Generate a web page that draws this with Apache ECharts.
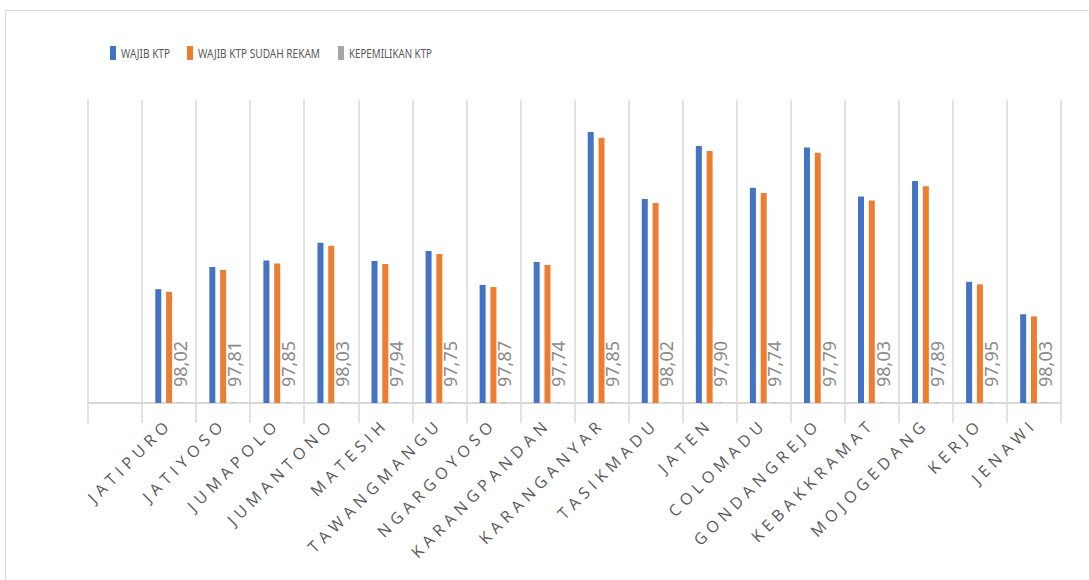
<!DOCTYPE html>
<html>
<head>
<meta charset="utf-8">
<script src="https://cdn.jsdelivr.net/npm/echarts@6/dist/echarts.min.js"></script>
<style>
html,body{margin:0;padding:0;background:#fff;}
#chart{width:1089px;height:580px;}
svg text[style*="Open Sans"]{letter-spacing:5px;}
</style>
</head>
<body>
<div id="chart"></div>
<script>
const categories = ['', 'JATIPURO', 'JATIYOSO', 'JUMAPOLO', 'JUMANTONO', 'MATESIH', 'TAWANGMANGU', 'NGARGOYOSO', 'KARANGPANDAN', 'KARANGANYAR', 'TASIKMADU', 'JATEN', 'COLOMADU', 'GONDANGREJO', 'KEBAKKRAMAT', 'MOJOGEDANG', 'KERJO', 'JENAWI'];
const wajibKtp = [null, 26300, 31400, 32900, 37000, 32800, 35100, 27300, 32600, 62600, 47100, 59400, 49700, 59000, 47700, 51300, 28000, 20500];
const wajibKtpRekam = [null, 25700, 30700, 32200, 36300, 32100, 34400, 26800, 31900, 61300, 46200, 58200, 48500, 57800, 46800, 50100, 27400, 20000];
const kepemilikanKtp = [null, 98.02, 97.81, 97.85, 98.03, 97.94, 97.75, 97.87, 97.74, 97.85, 98.02, 97.90, 97.74, 97.79, 98.03, 97.89, 97.95, 98.03];
const seriesNames = ['WAJIB KTP', 'WAJIB KTP SUDAH REKAM', 'KEPEMILIKAN KTP'];
const legendLefts = [105, 182, 333];
const legendTextWidths = [49, 122, 83];

const chart = echarts.init(document.getElementById('chart'), null, {renderer: 'svg'});
const barCommon = {type: 'bar', barWidth: 6, barGap: '80%'};

function squeezeLegend() {
  document.querySelectorAll('#chart svg text').forEach(t => {
    const i = seriesNames.indexOf(t.textContent);
    if (i >= 0) {
      t.setAttribute('textLength', legendTextWidths[i]);
      t.setAttribute('lengthAdjust', 'spacingAndGlyphs');
    }
  });
}
chart.on('rendered', squeezeLegend);

chart.setOption({
  animation: false,
  color: ['#4472c4', '#ed7d31', '#a5a5a5'],
  graphic: [{
    type: 'rect', silent: true,
    shape: {x: 5.5, y: 10.5, width: 1200, height: 700},
    style: {fill: 'none', stroke: '#d9d9d9', lineWidth: 1}
  }],
  legend: seriesNames.map((n, i) => ({
    top: 41, left: legendLefts[i],
    itemWidth: 6, itemHeight: 14,
    icon: 'rect',
    textStyle: {color: '#595959', fontSize: 12, fontFamily: "'Noto Sans', sans-serif"},
    data: [n]
  })),
  grid: {left: 88, right: 28, top: 100, bottom: 177, containLabel: false},
  xAxis: {
    type: 'category', data: categories, boundaryGap: true,
    axisLine: {lineStyle: {color: '#d9d9d9', width: 2}},
    axisTick: {show: true, length: 20, interval: 0, lineStyle: {color: '#d9d9d9', width: 1.5}},
    splitLine: {show: true, interval: 0, lineStyle: {color: '#d9d9d9', width: 1.5}},
    axisLabel: {interval: 0, rotate: 45, margin: 18, color: '#595959', fontSize: 16, fontFamily: "'Open Sans'"}
  },
  yAxis: {
    type: 'value', min: 0, max: 70000,
    axisLabel: {show: false}, axisLine: {show: false}, axisTick: {show: false}, splitLine: {show: false}
  },
  series: [
    Object.assign({name: seriesNames[0], data: wajibKtp}, barCommon),
    Object.assign({name: seriesNames[1], data: wajibKtpRekam}, barCommon),
    Object.assign({name: seriesNames[2], data: kepemilikanKtp,
      label: {show: true, position: 'insideBottom', distance: 16, rotate: 90, align: 'left', verticalAlign: 'middle',
        color: '#8a8a8a', fontSize: 18, fontFamily: "'Noto Sans'",
        formatter: p => p.value == null ? '' : p.value.toFixed(2).replace('.', ',')}
    }, barCommon)
  ]
});
squeezeLegend();
setTimeout(squeezeLegend, 50);
</script>
</body>
</html>
